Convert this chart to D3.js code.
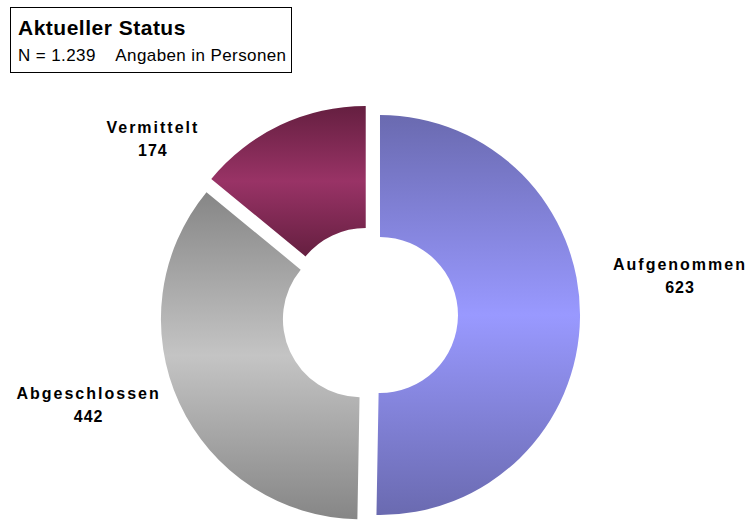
<!DOCTYPE html>
<html>
<head>
<meta charset="utf-8">
<script src="https://cdn.jsdelivr.net/npm/d3@7"></script>
<style>
  body { margin: 0; background: #fff; }
  svg { display: block; font-family: "Liberation Sans", Arial, sans-serif; }
</style>
</head>
<body>
<main></main>
<script>
// Data
const categories = ["Aufgenommen", "Abgeschlossen", "Vermittelt"];
const values = [623, 442, 174];
const lightColors = ["#9999ff", "#c4c4c4", "#993366"];
const darkColors = ["#6a6ab0", "#868686", "#651f40"];

// Dimensions
const w = 751;
const h = 520;
const cx = 370;
const cy = 315;
const outerR = 200;
const innerR = 78;
const explode = 10;

const svg = d3
  .select("main")
  .append("svg")
  .attr("width", w)
  .attr("height", h)
  .attr("viewBox", `0 0 ${w} ${h}`);

// Gradients: dark - light - dark, top to bottom per slice
const defs = svg.append("defs");
categories.forEach((c, i) => {
  const g = defs
    .append("linearGradient")
    .attr("id", "grad-" + i)
    .attr("x1", 0)
    .attr("y1", 0)
    .attr("x2", 0)
    .attr("y2", 1);
  g.append("stop").attr("offset", "0%").attr("stop-color", darkColors[i]);
  g.append("stop").attr("offset", "50%").attr("stop-color", lightColors[i]);
  g.append("stop").attr("offset", "100%").attr("stop-color", darkColors[i]);
});

const pie = d3.pie().sort(null).value((d) => d);
const arcs = pie(values);

const arc = d3.arc().innerRadius(innerR).outerRadius(outerR);

const chart = svg.append("g").attr("transform", `translate(${cx}, ${cy})`);

chart
  .selectAll("path")
  .data(arcs)
  .enter()
  .append("path")
  .attr("d", arc)
  .attr("fill", (d, i) => `url(#grad-${i})`)
  .attr("transform", (d) => {
    const a = (d.startAngle + d.endAngle) / 2;
    return `translate(${Math.sin(a) * explode}, ${-Math.cos(a) * explode})`;
  });

// Labels
const labelArc = d3.arc().innerRadius(300).outerRadius(300);
const labelNudge = [
  [10, -43],
  [-9, -37],
  [-89, 94],
];

const labels = chart
  .selectAll("g.label")
  .data(arcs)
  .enter()
  .append("g")
  .attr("class", "label")
  .attr("transform", (d, i) => {
    const c = labelArc.centroid(d);
    return `translate(${c[0] + labelNudge[i][0]}, ${c[1] + labelNudge[i][1]})`;
  });

labels
  .append("text")
  .attr("text-anchor", "middle")
  .attr("font-size", 16)
  .attr("font-weight", "bold")
  .attr("letter-spacing", 2)
  .attr("y", -5)
  .text((d, i) => categories[i]);

labels
  .append("text")
  .attr("text-anchor", "middle")
  .attr("font-size", 16)
  .attr("font-weight", "bold")
  .attr("letter-spacing", 1)
  .attr("y", 18)
  .text((d) => d.data);

// Title box
const title = svg.append("g");
title
  .append("rect")
  .attr("x", 10.5)
  .attr("y", 7.5)
  .attr("width", 281)
  .attr("height", 65)
  .attr("fill", "#fff")
  .attr("stroke", "#000")
  .attr("stroke-width", 1);

title
  .append("text")
  .attr("x", 18)
  .attr("y", 35)
  .attr("font-size", 21)
  .attr("font-weight", "bold")
  .attr("letter-spacing", 0.5)
  .text("Aktueller Status");

title
  .append("text")
  .attr("x", 18)
  .attr("y", 61)
  .attr("font-size", 17)
  .attr("letter-spacing", 0.4)
  .style("white-space", "pre")
  .text("N = 1.239    Angaben in Personen");
</script>
</body>
</html>
